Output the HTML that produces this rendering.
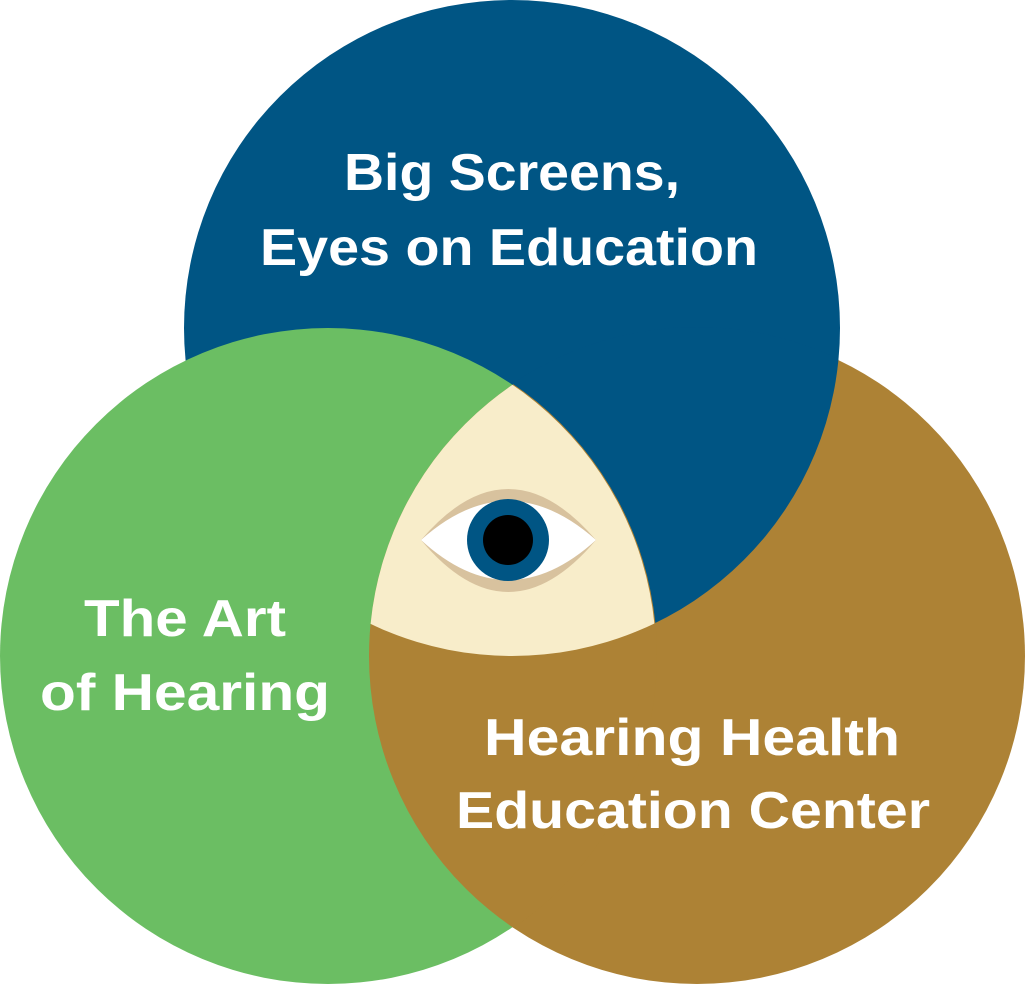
<!DOCTYPE html>
<html><head><style>body{margin:0;background:#fff}svg{display:block}</style></head><body>
<svg width="1025" height="984" viewBox="0 0 1025 984" xmlns="http://www.w3.org/2000/svg">
<defs>
<clipPath id="cb"><circle cx="697" cy="656" r="329"/></clipPath>
<clipPath id="cg"><circle cx="328" cy="656" r="329"/></clipPath>
<clipPath id="cb0"><circle cx="697" cy="656" r="328"/></clipPath>
<clipPath id="cg0"><circle cx="328" cy="656" r="328"/></clipPath>
</defs>
<circle cx="512" cy="328" r="328" fill="#005584"/>
<circle cx="697" cy="656" r="328" fill="#AD8235"/>
<circle cx="512" cy="328" r="328" fill="#005584" clip-path="url(#cb)"/>
<circle cx="328" cy="656" r="328" fill="#6BBE63"/>
<circle cx="697" cy="656" r="328" fill="#AD8235" clip-path="url(#cg)"/>
<g clip-path="url(#cg0)"><circle cx="512" cy="328" r="328" fill="#F8EDCA" clip-path="url(#cb0)"/></g>
<path d="M421 540 Q508 438 596 540 Q508 644 421 540Z" fill="#D8C29E"/>
<path d="M421 540 Q508 462 596 540 Q508 620 421 540Z" fill="#fff"/>
<circle cx="508" cy="540" r="41" fill="#005584"/>
<circle cx="508" cy="540" r="25" fill="#000"/>
<g font-family="Liberation Sans, sans-serif" font-weight="bold" font-size="52" fill="#fff" text-anchor="middle">
<text x="512" y="190" textLength="336" lengthAdjust="spacingAndGlyphs">Big Screens,</text>
<text x="509" y="265" textLength="498" lengthAdjust="spacingAndGlyphs">Eyes on Education</text>
<text x="185" y="636" textLength="202" lengthAdjust="spacingAndGlyphs">The Art</text>
<text x="185" y="710" textLength="290" lengthAdjust="spacingAndGlyphs">of Hearing</text>
<text x="692" y="755" textLength="416" lengthAdjust="spacingAndGlyphs">Hearing Health</text>
<text x="693" y="828" textLength="474" lengthAdjust="spacingAndGlyphs">Education Center</text>
</g>
</svg>
</body></html>
